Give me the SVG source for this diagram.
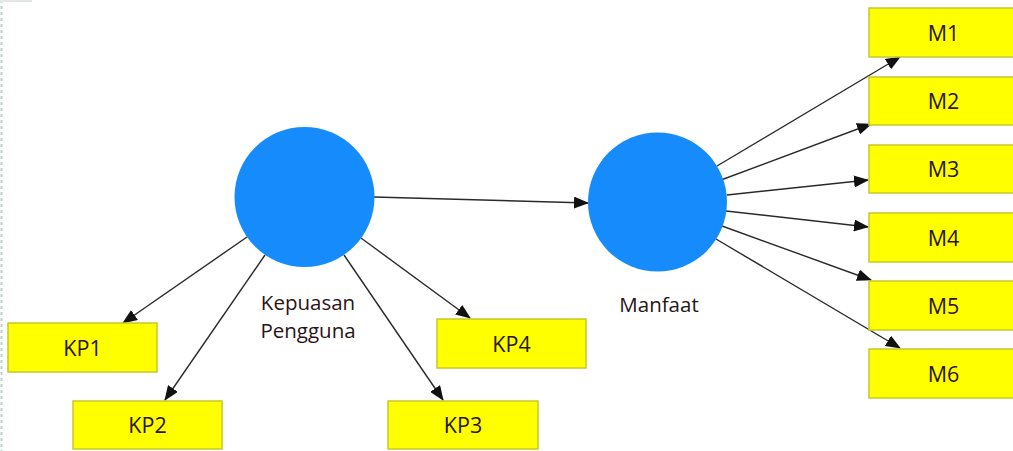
<svg xmlns="http://www.w3.org/2000/svg" width="1013" height="451" viewBox="0 0 1013 451">
  <style>
    .ind rect { fill: #ffff00; stroke: #c8c82a; stroke-width: 1.5; }
    .ind text { font-family: "Open Sans", "DejaVu Sans", sans-serif; font-size: 21.5px; fill: #2a1414; text-anchor: middle; }
    .lat circle { fill: #168cfc; }
    .lat text { font-family: "Open Sans", "DejaVu Sans", sans-serif; font-size: 20.5px; fill: #2a1414; text-anchor: middle; }
    .edges line { stroke: #2a2a2a; stroke-width: 1.4; marker-end: url(#head); }
  </style>
  <defs>
    <marker id="head" markerUnits="userSpaceOnUse" markerWidth="15" markerHeight="12" refX="14" refY="6" orient="auto">
      <path d="M0,0 L15,6 L0,12 Z" fill="#111"/>
    </marker>
  </defs>
  <rect width="1013" height="451" fill="#fff"/>
  <!-- frame edge at left -->
  <line x1="1.5" y1="0" x2="1.5" y2="451" stroke="#b9d3cf" stroke-width="2" stroke-dasharray="3,3"/>
  <line x1="0" y1="1" x2="32" y2="1" stroke="#e2e8e8" stroke-width="2"/>

  <g class="edges">
    <line x1="374" y1="197" x2="588" y2="203"/>
    <line x1="247" y1="237" x2="123" y2="323"/>
    <line x1="265" y1="255" x2="165" y2="400"/>
    <line x1="344" y1="255" x2="443" y2="400"/>
    <line x1="361" y1="238" x2="470" y2="318"/>
    <line x1="717" y1="166" x2="900" y2="57"/>
    <line x1="721" y1="180" x2="871" y2="124"/>
    <line x1="727" y1="195" x2="868" y2="180"/>
    <line x1="726" y1="211" x2="868" y2="227"/>
    <line x1="722" y1="226" x2="871" y2="280"/>
    <line x1="716" y1="239" x2="900" y2="348"/>
  </g>

  <g id="kepuasan" class="lat">
    <circle cx="304.5" cy="197" r="70"/>
    <text x="308" y="309.5">Kepuasan</text>
    <text x="308" y="338">Pengguna</text>
  </g>
  <g id="manfaat" class="lat">
    <circle cx="657.5" cy="202" r="69.5"/>
    <text x="659" y="312">Manfaat</text>
  </g>

  <g id="kp1" class="ind"><rect x="8" y="323" width="149" height="49"/><text x="82.5" y="356">KP1</text></g>
  <g id="kp2" class="ind"><rect x="73" y="401" width="149" height="48"/><text x="147.5" y="433">KP2</text></g>
  <g id="kp3" class="ind"><rect x="388" y="401" width="150" height="48"/><text x="463" y="433">KP3</text></g>
  <g id="kp4" class="ind"><rect x="437" y="319" width="149" height="49"/><text x="511.5" y="352">KP4</text></g>

  <g id="m1" class="ind"><rect x="869" y="8" width="149" height="49"/><text x="943.5" y="41">M1</text></g>
  <g id="m2" class="ind"><rect x="869" y="77" width="149" height="48"/><text x="943.5" y="109">M2</text></g>
  <g id="m3" class="ind"><rect x="869" y="145" width="149" height="48"/><text x="943.5" y="177">M3</text></g>
  <g id="m4" class="ind"><rect x="869" y="213" width="149" height="49"/><text x="943.5" y="246">M4</text></g>
  <g id="m5" class="ind"><rect x="869" y="281" width="149" height="49"/><text x="943.5" y="314">M5</text></g>
  <g id="m6" class="ind"><rect x="869" y="349" width="149" height="49"/><text x="943.5" y="382">M6</text></g>
</svg>
